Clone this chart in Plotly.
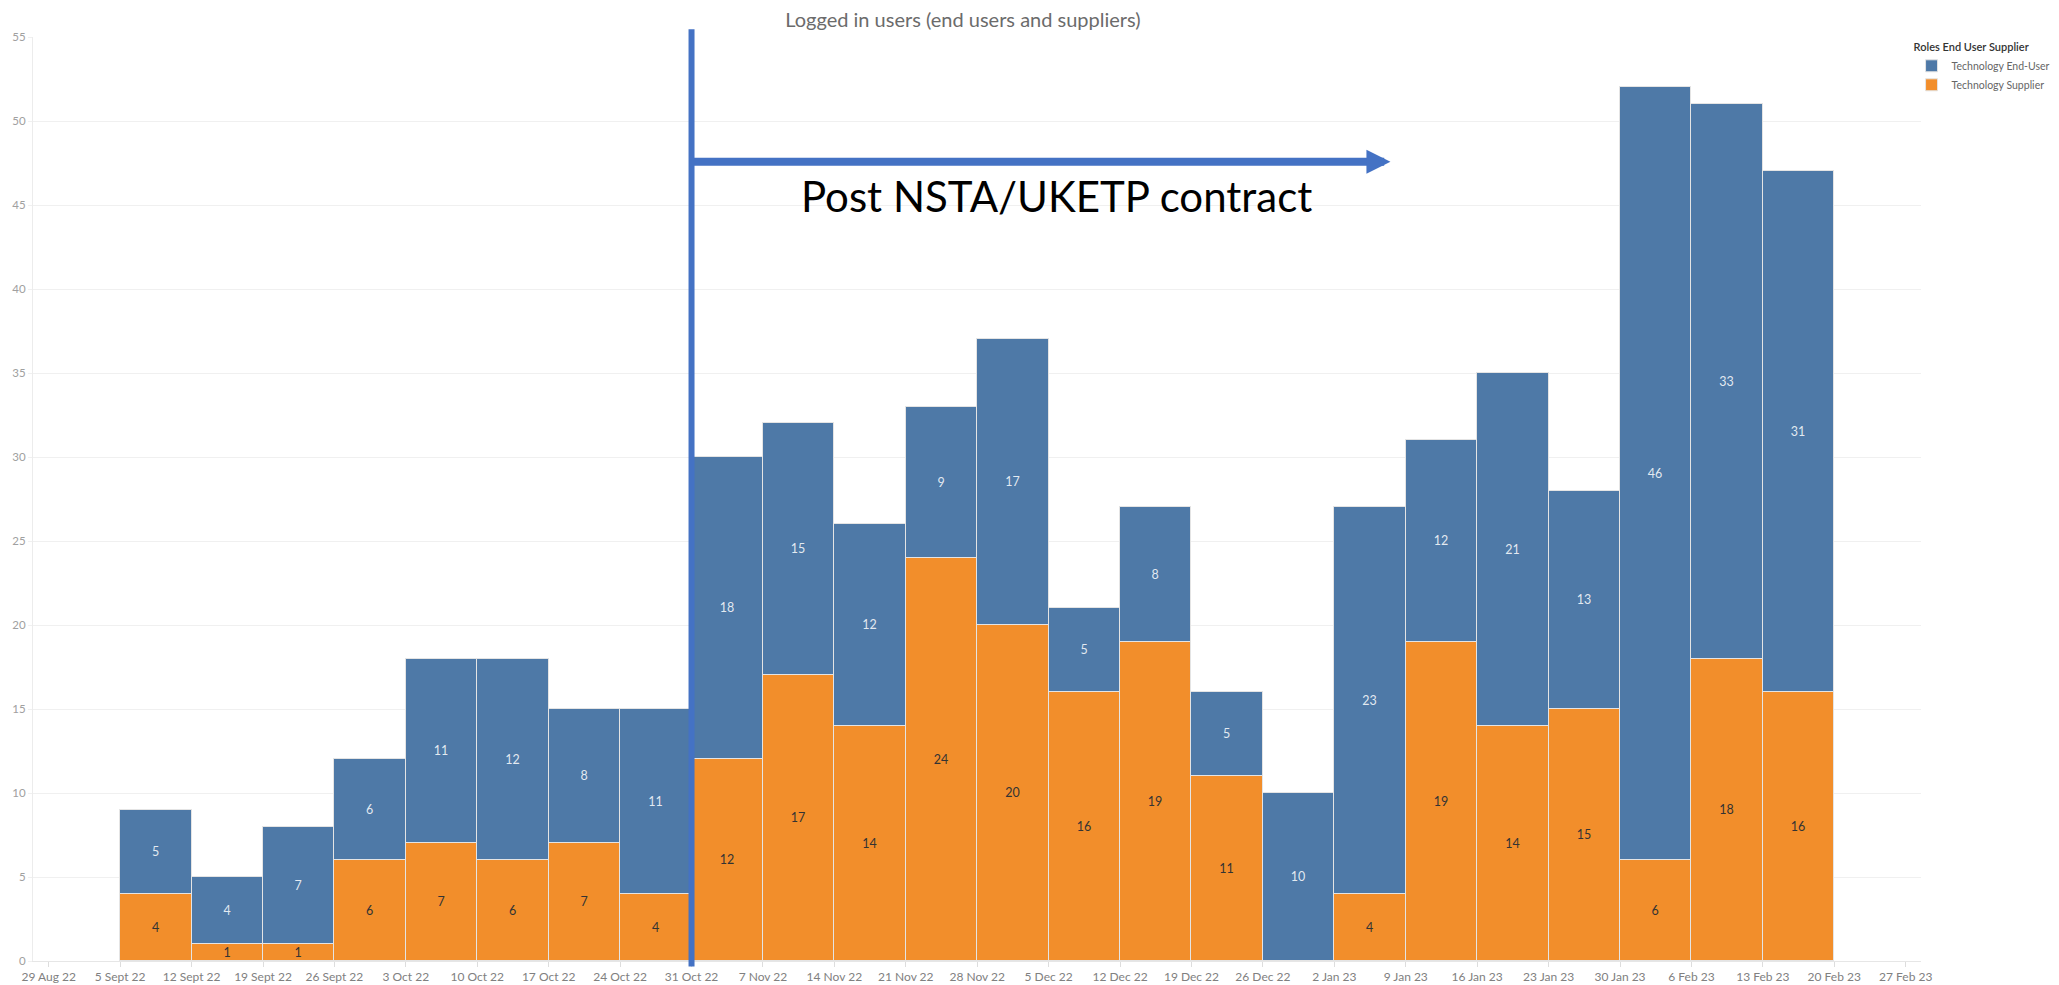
import pandas as pd
import plotly.graph_objects as go

# ---- data ----
week_start = [
    "2022-09-05", "2022-09-12", "2022-09-19", "2022-09-26", "2022-10-03", "2022-10-10",
    "2022-10-17", "2022-10-24", "2022-10-31", "2022-11-07", "2022-11-14", "2022-11-21",
    "2022-11-28", "2022-12-05", "2022-12-12", "2022-12-19", "2022-12-26", "2023-01-02",
    "2023-01-09", "2023-01-16", "2023-01-23", "2023-01-30", "2023-02-06", "2023-02-13",
]
tech_supplier = [4, 1, 1, 6, 7, 6, 7, 4, 12, 17, 14, 24, 20, 16, 19, 11, 0, 4, 19, 14, 15, 6, 18, 16]
tech_end_user = [5, 4, 7, 6, 11, 12, 8, 11, 18, 15, 12, 9, 17, 5, 8, 5, 10, 23, 12, 21, 13, 46, 33, 31]

tick_labels = [
    "29 Aug 22", "5 Sept 22", "12 Sept 22", "19 Sept 22", "26 Sept 22", "3 Oct 22",
    "10 Oct 22", "17 Oct 22", "24 Oct 22", "31 Oct 22", "7 Nov 22", "14 Nov 22",
    "21 Nov 22", "28 Nov 22", "5 Dec 22", "12 Dec 22", "19 Dec 22", "26 Dec 22",
    "2 Jan 23", "9 Jan 23", "16 Jan 23", "23 Jan 23", "30 Jan 23", "6 Feb 23",
    "13 Feb 23", "20 Feb 23", "27 Feb 23",
]
tick_start = "2022-08-29"
contract_date = "2022-10-31"
arrow_end_date = "2023-01-07 12:00"

# ---- styling ----
BLUE = "#4e79a7"
ORANGE = "#f28e2b"
LINE_BLUE = "#4472C4"
FONT = "Lato"
WEEK_MS = 7 * 24 * 3600 * 1000
# the page body has an 8px default margin, so the figure is drawn 8px smaller
FIG_W, FIG_H = 2051, 977

tick_vals = pd.date_range(tick_start, periods=len(tick_labels), freq="7D")

fig = go.Figure()
fig.add_trace(go.Bar(
    name="Technology Supplier",
    x=week_start, y=tech_supplier,
    width=WEEK_MS, offset=0,
    marker=dict(color=ORANGE, line=dict(color="#e4e4e4", width=1)),
    text=[str(v) if v else "" for v in tech_supplier],
    textposition="inside", insidetextanchor="middle", textangle=0,
    constraintext="none",
    textfont=dict(family=FONT, size=12.5, color="#333333"),
    hoverinfo="skip",
))
fig.add_trace(go.Bar(
    name="Technology End-User",
    x=week_start, y=tech_end_user,
    width=WEEK_MS, offset=0,
    marker=dict(color=BLUE, line=dict(color="#e4e4e4", width=1)),
    text=[str(v) if v else "" for v in tech_end_user],
    textposition="inside", insidetextanchor="middle", textangle=0,
    constraintext="none",
    textfont=dict(family=FONT, size=12.5, color="rgba(255,255,255,0.85)"),
    hoverinfo="skip",
))

fig.update_layout(
    width=FIG_W, height=FIG_H,
    autosize=False,
    barmode="stack",
    bargap=0,
    plot_bgcolor="white",
    paper_bgcolor="white",
    margin=dict(l=25, r=138, t=29, b=24, autoexpand=False),
    font=dict(family=FONT, color="#666666"),
    title=dict(
        text="Logged in users (end users and suppliers)",
        x=0.4656, xanchor="center", y=1 - 12 / FIG_H, yanchor="middle",
        font=dict(family=FONT, size=20, color="#6b6b6b"),
    ),
    showlegend=True,
    legend=dict(
        title=dict(text="Roles End User Supplier",
                   font=dict(family=FONT, size=11, color="#333333", weight=600)),
        x=0.995, xanchor="left", y=1.0, yanchor="top",
        traceorder="reversed",
        font=dict(family=FONT, size=10.5, color="#666666"),
        bgcolor="rgba(0,0,0,0)",
        itemwidth=30,
    ),
    uniformtext=dict(minsize=12, mode="show"),
)

fig.update_xaxes(
    type="date",
    range=["2022-08-27 11:00", "2023-02-28 12:00"],
    tickvals=tick_vals, ticktext=tick_labels,
    tickfont=dict(family=FONT, size=12, color="#808080"),
    ticks="outside", ticklen=5, tickcolor="#dddddd",
    showgrid=False, showline=True, linecolor="#e6e6e6", linewidth=1,
    zeroline=False,
)
fig.update_yaxes(
    range=[0, 55],
    tickvals=list(range(0, 56, 5)),
    tickfont=dict(family=FONT, size=11.5, color="#a0a0a0"),
    ticks="outside", ticklen=4, tickcolor="#f0f0f0",
    showgrid=True, gridcolor="#f0f0f0", gridwidth=1,
    showline=True, linecolor="#ececec", linewidth=1,
    zeroline=False,
)

# vertical contract line
fig.add_shape(
    type="line", xref="x", yref="paper",
    x0=contract_date, x1=contract_date, y0=-0.006, y1=1.0085,
    line=dict(color=LINE_BLUE, width=6), layer="above",
)
# horizontal arrow
fig.add_annotation(
    x=arrow_end_date, y=47.57, xref="x", yref="y",
    ax=contract_date, ay=47.57, axref="x", ayref="y",
    text="", showarrow=True, arrowhead=2, arrowsize=0.6, arrowwidth=8,
    arrowcolor=LINE_BLUE, standoff=0,
)
fig.add_annotation(
    text="Post NSTA/UKETP contract",
    xref="paper", yref="paper", x=0.542, y=0.828,
    xanchor="center", yanchor="middle", showarrow=False,
    font=dict(family=FONT, size=42, color="#000000"),
)

fig.write_html("out.html")
